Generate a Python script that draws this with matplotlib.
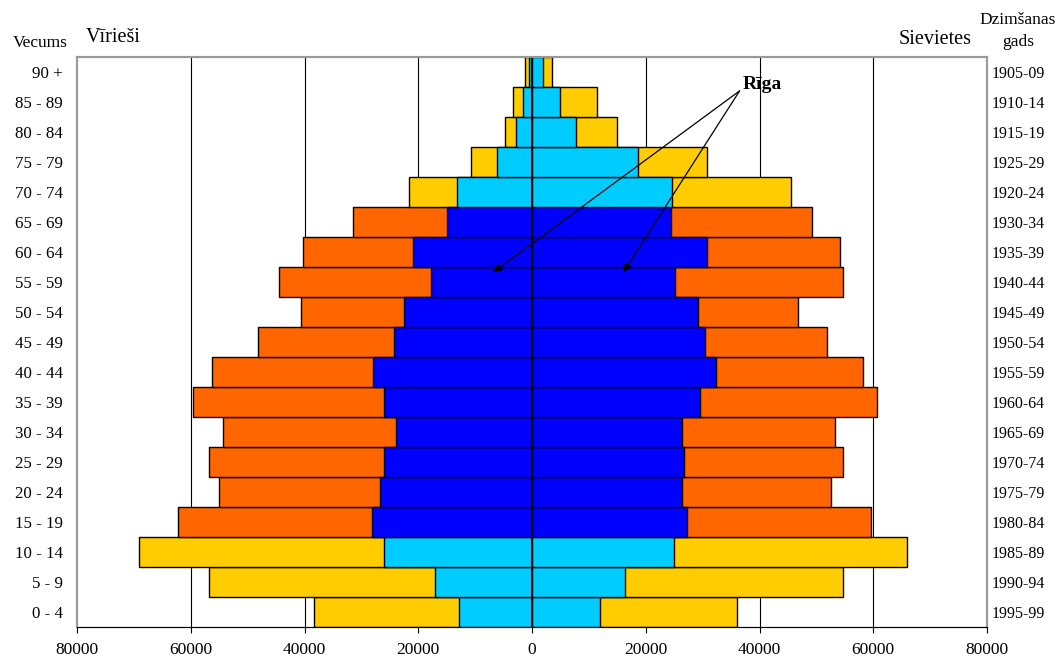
import numpy as np
import matplotlib.pyplot as plt

plt.rcParams['font.family'] = ['Liberation Serif', 'DejaVu Serif']

vecums = ["0 - 4", "5 - 9", "10 - 14", "15 - 19", "20 - 24", "25 - 29", "30 - 34",
          "35 - 39", "40 - 44", "45 - 49", "50 - 54", "55 - 59", "60 - 64",
          "65 - 69", "70 - 74", "75 - 79", "80 - 84", "85 - 89", "90 +"]
gads = ["1995-99", "1990-94", "1985-89", "1980-84", "1975-79", "1970-74", "1965-69",
        "1960-64", "1955-59", "1950-54", "1945-49", "1940-44", "1935-39",
        "1930-34", "1920-24", "1925-29", "1915-19", "1910-14", "1905-09"]

# Latvija kopā (ārējais stabiņš)
viriesi = [38400, 56800, 69100, 62300, 55100, 56800, 54400, 59600, 56300, 48100,
           40700, 44400, 40200, 31400, 21600, 10700, 4700, 3300, 1200]
sievietes = [36100, 54600, 66000, 59600, 52600, 54600, 53300, 60700, 58200, 51900,
             46700, 54700, 54200, 49300, 45600, 30700, 14900, 11400, 3500]
# Rīga (iekšējais stabiņš)
riga_v = [12800, 17000, 26100, 28100, 26700, 26000, 24000, 26100, 27900, 24200,
          22500, 17700, 20900, 14900, 13200, 6100, 2800, 1600, 600]
riga_s = [11900, 16300, 24900, 27200, 26300, 26700, 26300, 29500, 32300, 30400,
          29100, 25100, 30700, 24400, 24700, 18600, 7700, 4900, 1900]

y = np.arange(len(vecums))
jauni_veci = np.array([v in ("0 - 4", "5 - 9", "10 - 14", "70 - 74", "75 - 79",
                             "80 - 84", "85 - 89", "90 +") for v in vecums])
c_out = np.where(jauni_veci, "#FFCC00", "#FF6600")
c_in = np.where(jauni_veci, "#00CCFF", "#0000FF")

fig = plt.figure(figsize=(10.58, 6.61), dpi=100)
ax = fig.add_axes([0.0728, 0.0514, 0.8601, 0.8624])

for g in [-60000, -40000, -20000, 20000, 40000, 60000]:
    ax.axvline(g, color="black", lw=0.8, zorder=0)

kw = dict(height=1.0, edgecolor="black", linewidth=1.0)
ax.barh(y, -np.array(viriesi), color=c_out, zorder=2, **kw)
ax.barh(y, sievietes, color=c_out, zorder=2, **kw)
ax.barh(y, -np.array(riga_v), color=c_in, zorder=3, **kw)
ax.barh(y, riga_s, color=c_in, zorder=3, **kw)
ax.axvline(0, color="black", lw=1.5, zorder=4)

ax.set_xlim(-80000, 80000)
ax.set_ylim(-0.5, len(vecums) - 0.5)
ax.set_xticks(np.arange(-80000, 80001, 20000))
ax.set_xticklabels([str(abs(int(t))) for t in np.arange(-80000, 80001, 20000)],
                   fontsize=12.5)
ax.tick_params(axis="x", direction="out", length=4, width=0.8, pad=7)
ax.set_yticks(y)
ax.set_yticklabels(vecums, fontsize=12.2)
ax.tick_params(axis="y", length=0, pad=10)

ax2 = ax.twinx()
ax2.set_ylim(ax.get_ylim())
ax2.set_yticks(y)
ax2.set_yticklabels(gads, fontsize=11.5)
ax2.tick_params(axis="y", length=0, pad=3)

for a in (ax, ax2):
    for s in ("top", "left", "right"):
        a.spines[s].set_color("#999999")
        a.spines[s].set_linewidth(1.5)
    a.spines["bottom"].set_color("black")

fig.text(40 / 1058, 1 - 43 / 661, "Vecums", fontsize=12.5, ha="center", va="center")
fig.text(86 / 1058, 1 - 38 / 661, "Vīrieši", fontsize=14.5, ha="left", va="center")
fig.text(972 / 1058, 1 - 40 / 661, "Sievietes", fontsize=14.5, ha="right", va="center")
fig.text(1018 / 1058, 1 - 20 / 661, "Dzimšanas", fontsize=12.5, ha="center", va="center")
fig.text(1018 / 1058, 1 - 42 / 661, "gads", fontsize=12.5, ha="center", va="center")

ax.text(37000, 17.57, "Rīga", fontsize=14, fontweight="bold", ha="left", va="center")
for tx in (-6800, 16100):
    ax.annotate("", xy=(tx, 11.33), xytext=(36500, 17.37),
                arrowprops=dict(arrowstyle="-|>", color="black", lw=0.9,
                                mutation_scale=12, shrinkA=0, shrinkB=0),
                zorder=5)

fig.savefig("out.png", dpi=100)
